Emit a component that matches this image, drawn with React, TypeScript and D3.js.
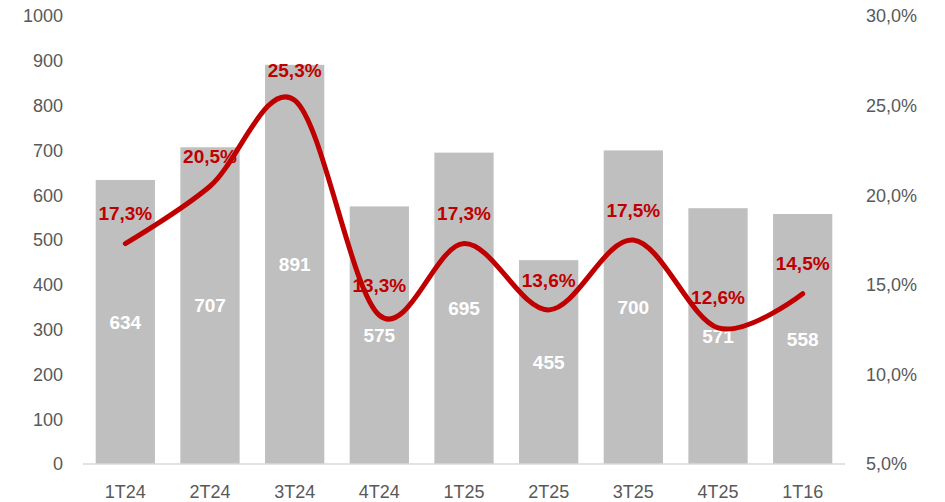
import { useEffect, useRef } from "react";
import * as d3 from "d3";

const quarters = ["1T24", "2T24", "3T24", "4T24", "1T25", "2T25", "3T25", "4T25", "1T16"];
const volumes = [634, 707, 891, 575, 695, 455, 700, 571, 558];
const margins = [17.3, 20.5, 25.3, 13.3, 17.3, 13.6, 17.5, 12.6, 14.5];
const leftTicks = [0, 100, 200, 300, 400, 500, 600, 700, 800, 900, 1000];
const rightTicks = [5, 10, 15, 20, 25, 30];

const W = 945;
const H = 502;
const font = "'Liberation Sans', Arial, sans-serif";

export default function App() {
  const svgRef = useRef<SVGSVGElement>(null);

  useEffect(() => {
    if (!svgRef.current) return;
    const svg = d3.select(svgRef.current);
    svg.selectAll("*").remove();

    const x = d3.scaleBand<string>().domain(quarters).range([83, 845]).paddingInner(0.3).paddingOuter(0.15);
    const y = d3.scaleLinear([0, 1000], [464, 16]);
    const y2 = d3.scaleLinear([5, 30], [464, 16]);
    const cx = (q: string) => (x(q) ?? 0) + x.bandwidth() / 2;

    // bars
    svg.append("g")
      .selectAll("rect")
      .data(volumes)
      .join("rect")
      .attr("x", (_, i) => x(quarters[i]) ?? 0)
      .attr("y", (d) => y(d))
      .attr("width", x.bandwidth())
      .attr("height", (d) => y(0) - y(d))
      .attr("fill", "#bfbfbf");

    // baseline
    svg.append("line")
      .attr("x1", 83).attr("x2", 845)
      .attr("y1", y(0)).attr("y2", y(0))
      .attr("stroke", "#d9d9d9").attr("stroke-width", 1.5);

    // left axis
    svg.append("g")
      .selectAll("text")
      .data(leftTicks)
      .join("text")
      .attr("x", 63)
      .attr("y", (d) => y(d))
      .attr("dy", "0.35em")
      .attr("text-anchor", "end")
      .attr("font-family", font)
      .attr("font-size", 18)
      .attr("fill", "#595959")
      .text((d) => d);

    // right axis
    svg.append("g")
      .selectAll("text")
      .data(rightTicks)
      .join("text")
      .attr("x", 866)
      .attr("y", (d) => y2(d))
      .attr("dy", "0.35em")
      .attr("font-family", font)
      .attr("font-size", 18)
      .attr("fill", "#595959")
      .text((d) => d3.format(".1f")(d).replace(".", ",") + "%");

    // category labels
    svg.append("g")
      .selectAll("text")
      .data(quarters)
      .join("text")
      .attr("x", (d) => cx(d))
      .attr("y", 492)
      .attr("dy", "0.35em")
      .attr("text-anchor", "middle")
      .attr("font-family", font)
      .attr("font-size", 18)
      .attr("fill", "#595959")
      .text((d) => d);

    // bar value labels
    svg.append("g")
      .selectAll("text")
      .data(volumes)
      .join("text")
      .attr("x", (_, i) => cx(quarters[i]))
      .attr("y", (d) => (y(d) + y(0)) / 2)
      .attr("dy", "0.35em")
      .attr("text-anchor", "middle")
      .attr("font-family", font)
      .attr("font-size", 19)
      .attr("font-weight", "bold")
      .attr("fill", "#ffffff")
      .text((d) => d);

    // margin line
    const line = d3.line<number>()
      .x((_, i) => cx(quarters[i]))
      .y((d) => y2(d))
      .curve(d3.curveCardinal.tension(0));
    svg.append("path")
      .datum(margins)
      .attr("d", line)
      .attr("fill", "none")
      .attr("stroke", "#c00000")
      .attr("stroke-width", 5)
      .attr("stroke-linecap", "round");

    // margin labels
    svg.append("g")
      .selectAll("text")
      .data(margins)
      .join("text")
      .attr("x", (_, i) => cx(quarters[i]))
      .attr("y", (d) => y2(d) - 30)
      .attr("dy", "0.35em")
      .attr("text-anchor", "middle")
      .attr("font-family", font)
      .attr("font-size", 19)
      .attr("font-weight", "bold")
      .attr("fill", "#c00000")
      .text((d) => d3.format(".1f")(d).replace(".", ",") + "%");
  }, []);

  return (
    <svg
      ref={svgRef}
      width={W}
      height={H}
      style={{ position: "absolute", left: 0, top: 0, background: "#fff" }}
    />
  );
}
